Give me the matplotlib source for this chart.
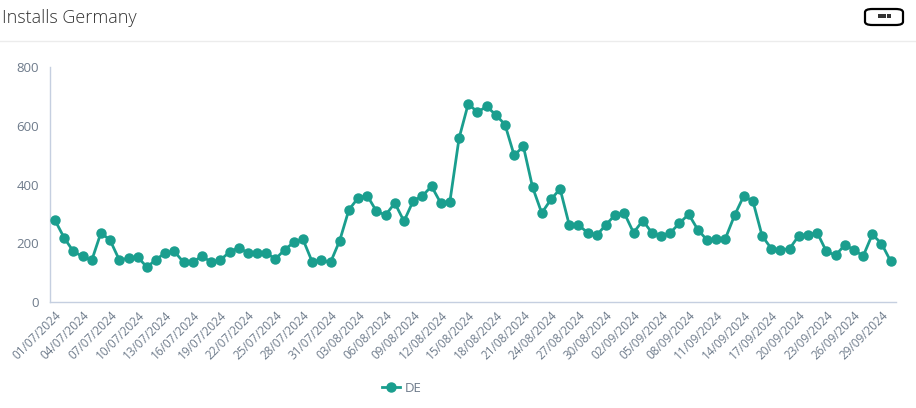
import numpy as np
import pandas as pd
import matplotlib
matplotlib.use("Agg")
import matplotlib.pyplot as plt
from matplotlib.patches import FancyBboxPatch
from matplotlib.lines import Line2D

# daily installs, Germany, 01/07/2024 - 30/09/2024
dates = pd.date_range("2024-07-01", "2024-09-30", freq="D")
installs_de = [
    278, 218, 172, 155, 142, 236, 210, 143, 149, 153,
    119, 144, 168, 172, 135, 135, 157, 135, 143, 170,
    185, 167, 167, 167, 146, 178, 203, 213, 137, 142,
    135, 209, 314, 354, 362, 309, 296, 337, 275, 344,
    361, 394, 337, 342, 558, 675, 646, 666, 637, 604,
    499, 530, 391, 303, 349, 385, 262, 262, 236, 228,
    263, 297, 302, 236, 277, 236, 225, 236, 268, 299,
    246, 211, 213, 216, 295, 361, 343, 225, 182, 177,
    182, 226, 229, 236, 172, 159, 194, 178, 156, 230,
    199, 139,
]
y_ticks = [0, 200, 400, 600, 800]
title = "Installs Germany"
series_name = "DE"

teal = "#1a9e8e"
axis_col = "#c5cfe0"
text_col = "#6e7b8b"

plt.rcParams["font.family"] = ["Open Sans", "DejaVu Sans"]

fig = plt.figure(figsize=(9.16, 4.08), dpi=100)
ax = fig.add_axes([50 / 916, 106 / 408, 846 / 916, 235 / 408])

x = np.arange(len(dates))
ax.plot(x, installs_de, color=teal, lw=2, marker="o", ms=6.5, zorder=3)

ax.set_xlim(-0.55, len(dates) - 1 + 0.58)
ax.set_ylim(0, 800)
ax.set_yticks(y_ticks)
ax.set_yticklabels([str(v) for v in y_ticks], color=text_col, fontsize=9.5)

tick_idx = x[::3]
ax.set_xticks(tick_idx)
ax.set_xticklabels([dates[i].strftime("%d/%m/%Y") for i in tick_idx],
                   rotation=45, ha="right", rotation_mode="anchor",
                   color=text_col, fontsize=8.5)

for side in ["top", "right"]:
    ax.spines[side].set_visible(False)
for side in ["left", "bottom"]:
    ax.spines[side].set_color(axis_col)
    ax.spines[side].set_linewidth(1)
ax.tick_params(axis="both", length=0, pad=8)
ax.tick_params(axis="x", pad=5)

# header
fig.text(2 / 916, 1 - 18 / 408, title, fontsize=13, color="#333333",
         va="center", ha="left", fontweight="light")
fig.add_artist(Line2D([0, 1], [1 - 41 / 408, 1 - 41 / 408],
                      color="#ececec", lw=1, transform=fig.transFigure))
btn = FancyBboxPatch((865 / 916, 1 - 25 / 408), 38 / 916, 16 / 408,
                     boxstyle="round,pad=0,rounding_size=0.008",
                     transform=fig.transFigure, facecolor="white",
                     edgecolor="black", lw=1.6)
fig.add_artist(btn)
for dx in [-4.5, 0, 4.5]:
    fig.add_artist(Line2D([(884 + dx) / 916], [1 - 16 / 408], marker="s",
                          ms=2.2, mew=0, color="#333333",
                          transform=fig.transFigure))

# legend
handle = Line2D([], [], color=teal, lw=2, marker="o", ms=6.5)
fig.legend([handle], [series_name], loc="center",
           bbox_to_anchor=(402 / 916, 1 - 388 / 408), frameon=False,
           handlelength=1.3, handletextpad=0.4,
           prop={"size": 9.5}, labelcolor=text_col)

fig.savefig("out.png", dpi=100)
